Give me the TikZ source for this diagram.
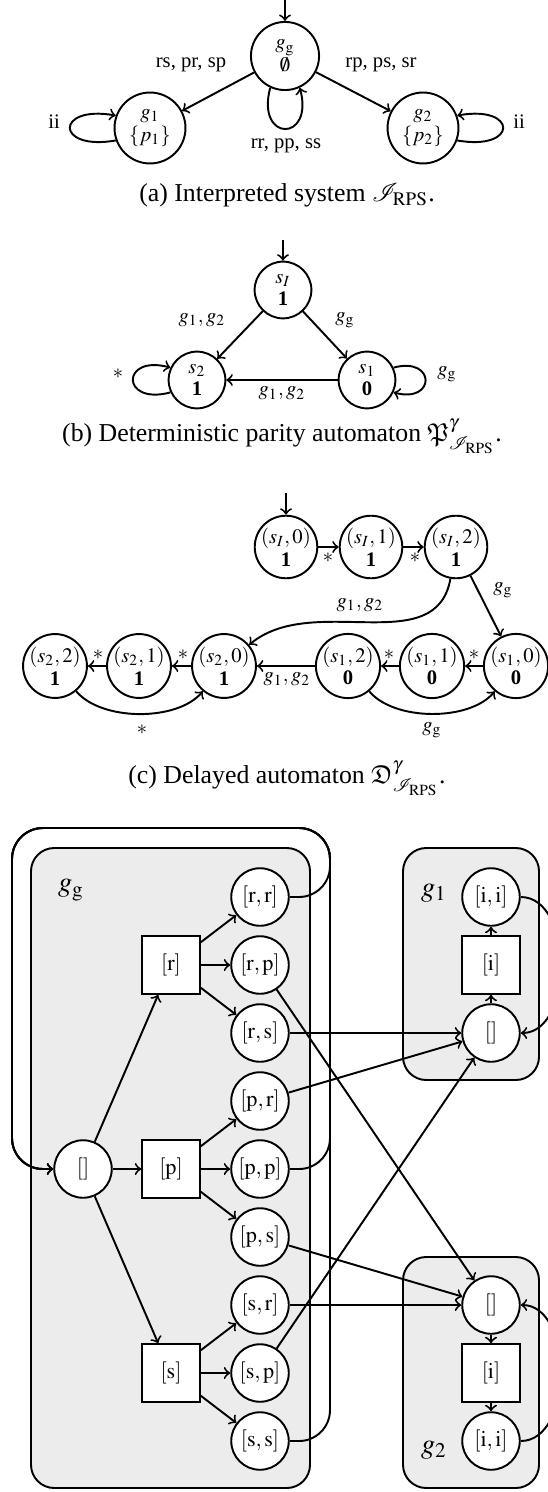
\documentclass[tikz,border=0pt]{standalone}
\usepackage{mathptmx}
\usepackage{amssymb}
\usepackage{mathrsfs}
\usepackage{fontspec}
\setmainfont{Liberation Serif}
\usetikzlibrary{positioning}

\newcommand{\Irps}{\mathscr{I}_{\mathrm{RPS}}}
\newcommand{\hist}[1]{$[\mathrm{#1}]$}

\tikzset{
  lbl/.style={font=\fontsize{8}{9.5}\selectfont, inner sep=0pt},
  state/.style={circle, draw, align=center, inner sep=0pt, font=\fontsize{8}{8.8}\selectfont},
  hbox/.style={rectangle, draw, fill=white, minimum size=22.3pt, inner sep=0pt, font=\fontsize{8.6}{10}\selectfont},
  hcirc/.style={circle, draw, fill=white, minimum size=22.3pt, inner sep=0pt, font=\fontsize{8.6}{10}\selectfont},
  groupbox/.style={draw, fill=gray!15, rounded corners=9pt},
  caption/.style={font=\fontsize{10}{12}\selectfont, inner sep=0pt},
  glabel/.style={font=\fontsize{11}{13}\selectfont, inner sep=0pt},
}

\begin{document}
\begin{tikzpicture}[x=0.3876pt, y=-0.3876pt, line width=0.75pt]
  \useasboundingbox (0,0) rectangle (548,1492);

  % (a) interpreted system
  \node[state, minimum size=26.4pt] (gg) at (285,56) {$g_{\mathrm{g}}$\\$\emptyset$};
  \node[state, minimum size=27.5pt] (g1) at (150,128) {$g_1$\\$\{p_1\}$};
  \node[state, minimum size=27.5pt] (g2) at (423,128) {$g_2$\\$\{p_2\}$};
  \coordinate (ginit) at (285,0);

  \draw[->] (ginit) -- (gg);
  \draw[->] (gg) -- (g1);
  \draw[->] (gg) -- (g2);
  \draw[->] (gg.245) .. controls +(255:22pt) and +(285:22pt) .. (gg.295);
  \draw[->] (g1.200) .. controls +(190:24pt) and +(170:24pt) .. (g1.160);
  \draw[->] (g2.-20) .. controls +(-10:24pt) and +(10:24pt) .. (g2.20);

  \node[lbl] (la1) at (191,65) {rs, pr, sp};
  \node[lbl] (la2) at (381,65) {rp, ps, sr};
  \node[lbl] (la3) at (286,146) {rr, pp, ss};
  \node[lbl] (la4) at (54,122) {ii};
  \node[lbl] (la5) at (519,122) {ii};
  \node[caption] (capa) at (287,195) {(a) Interpreted system $\Irps$.};

  % (b) parity automaton
  \node[state, minimum size=22pt] (sI) at (283,290) {$s_I$\\\textbf{1}};
  \node[state, minimum size=22pt] (s2) at (197,380) {$s_2$\\\textbf{1}};
  \node[state, minimum size=22pt] (s1) at (367,380) {$s_1$\\\textbf{0}};
  \coordinate (sinit) at (283,240);

  \draw[->] (sinit) -- (sI);
  \draw[->] (sI) -- (s2);
  \draw[->] (sI) -- (s1);
  \draw[->] (s1) -- (s2);
  \draw[->] (s2.205) .. controls +(195:20pt) and +(165:20pt) .. (s2.155);
  \draw[->] (s1.25) .. controls +(15:17pt) and +(-15:17pt) .. (s1.-25);

  \node[lbl] (lb1) at (202,320) {$g_1, g_2$};
  \node[lbl] (lb2) at (345,320) {$g_{\mathrm{g}}$};
  \node[lbl, anchor=north] (lb3) at (282,386) {$g_1, g_2$};
  \node[lbl] (lb4) at (118,374) {$*$};
  \node[lbl] (lb5) at (447,374) {$g_{\mathrm{g}}$};
  \node[caption] (capb) at (282,436) {(b) Deterministic parity automaton $\mathfrak{P}^{\gamma}_{\Irps}$.};

  % (c) delayed automaton
  \node[state, minimum size=24pt] (sI0) at (286,547) {$(s_I,0)$\\\textbf{1}};
  \node[state, minimum size=24pt] (sI1) at (371,547) {$(s_I,1)$\\\textbf{1}};
  \node[state, minimum size=24pt] (sI2) at (456,547) {$(s_I,2)$\\\textbf{1}};
  \node[state, minimum size=24pt] (s22) at (55,666) {$(s_2,2)$\\\textbf{1}};
  \node[state, minimum size=24pt] (s21) at (139,666) {$(s_2,1)$\\\textbf{1}};
  \node[state, minimum size=24pt] (s20) at (224,666) {$(s_2,0)$\\\textbf{1}};
  \node[state, minimum size=24pt] (s12) at (348,666) {$(s_1,2)$\\\textbf{0}};
  \node[state, minimum size=24pt] (s11) at (432,666) {$(s_1,1)$\\\textbf{0}};
  \node[state, minimum size=24pt] (s10) at (516,666) {$(s_1,0)$\\\textbf{0}};
  \coordinate (dinit) at (286,493);

  \draw[->] (dinit) -- (sI0);
  \draw[->] (sI0) -- (sI1);
  \draw[->] (sI1) -- (sI2);
  \draw[->] (sI2) to[out=260, in=40] (s20);
  \draw[->] (sI2) -- (s10);
  \draw[->] (s10) -- (s11);
  \draw[->] (s11) -- (s12);
  \draw[->] (s12) -- (s20);
  \draw[->] (s20) -- (s21);
  \draw[->] (s21) -- (s22);
  \draw[->] (s22) to[out=-50, in=-130, looseness=0.8] (s20);
  \draw[->] (s12) to[out=-50, in=-130, looseness=0.8] (s10);

  \node[lbl] (lc1) at (328,558) {$*$};
  \node[lbl] (lc2) at (415,558) {$*$};
  \node[lbl] (lc3) at (360,605) {$g_1, g_2$};
  \node[lbl] (lc4) at (503,590) {$g_{\mathrm{g}}$};
  \node[lbl] (lc5) at (98,655) {$*$};
  \node[lbl] (lc6) at (183,655) {$*$};
  \node[lbl] (lc7) at (389,655) {$*$};
  \node[lbl] (lc8) at (474,655) {$*$};
  \node[lbl, anchor=north] (lc9) at (287,672) {$g_1, g_2$};
  \node[lbl] (lc10) at (142,730) {$*$};
  \node[lbl] (lc11) at (432,730) {$g_{\mathrm{g}}$};
  \node[caption] (capc) at (287,778) {(c) Delayed automaton $\mathfrak{D}^{\gamma}_{\Irps}$.};

  % (d) game arena
  \draw[groupbox] (31,848) rectangle (310,1488);
  \draw[groupbox] (403,848) rectangle (539,1080);
  \draw[groupbox] (403,1257) rectangle (539,1488);

  \node[glabel] (lgg) at (71,890) {$g_{\mathrm{g}}$};
  \node[glabel] (lg1) at (434,893) {$g_1$};
  \node[glabel] (lg2) at (434,1450) {$g_2$};

  \node[hcirc] (e0) at (83,1169) {$[]$};
  \node[hbox] (hr) at (171,965) {\hist{r}};
  \node[hbox] (hp) at (171,1169) {\hist{p}};
  \node[hbox] (hs) at (171,1373) {\hist{s}};

  \node[hcirc] (rr) at (260,897) {\hist{r,r}};
  \node[hcirc] (rp) at (260,965) {\hist{r,p}};
  \node[hcirc] (rs) at (260,1033) {\hist{r,s}};
  \node[hcirc] (pr) at (260,1101) {\hist{p,r}};
  \node[hcirc] (pp) at (260,1169) {\hist{p,p}};
  \node[hcirc] (ps) at (260,1237) {\hist{p,s}};
  \node[hcirc] (sr) at (260,1305) {\hist{s,r}};
  \node[hcirc] (sp) at (260,1373) {\hist{s,p}};
  \node[hcirc] (ss) at (260,1441) {\hist{s,s}};

  \node[hcirc] (gaii) at (491,897) {\hist{i,i}};
  \node[hbox] (gai) at (491,965) {\hist{i}};
  \node[hcirc] (ga0) at (491,1033) {$[]$};
  \node[hcirc] (gb0) at (491,1305) {$[]$};
  \node[hbox] (gbi) at (491,1373) {\hist{i}};
  \node[hcirc] (gbii) at (491,1441) {\hist{i,i}};

  % moves of g_g
  \draw[->] (e0) -- (hr);
  \draw[->] (e0) -- (hp);
  \draw[->] (e0) -- (hs);
  \draw[->] (hr) -- (rr);
  \draw[->] (hr) -- (rp);
  \draw[->] (hr) -- (rs);
  \draw[->] (hp) -- (pr);
  \draw[->] (hp) -- (pp);
  \draw[->] (hp) -- (ps);
  \draw[->] (hs) -- (sr);
  \draw[->] (hs) -- (sp);
  \draw[->] (hs) -- (ss);

  % back to the start
  \draw[->, rounded corners=12pt] (rr.east) -| (330,828) -| (12,1169) -- (e0.west);
  \draw[->, rounded corners=12pt] (pp.east) -| (330,828) -| (12,1169) -- (e0.west);
  \draw[->, rounded corners=12pt] (ss.east) -| (330,828) -| (12,1169) -- (e0.west);

  % into g_1 and g_2
  \draw[->] (rs) -- (ga0);
  \draw[->] (pr) -- (ga0);
  \draw[->] (sp) -- (ga0);
  \draw[->] (rp) -- (gb0);
  \draw[->] (ps) -- (gb0);
  \draw[->] (sr) -- (gb0);

  % g_1 and g_2
  \draw[->] (ga0) -- (gai);
  \draw[->] (gai) -- (gaii);
  \draw[->] (gaii.east) to[out=0, in=0] (ga0.east);
  \draw[->] (gb0) -- (gbi);
  \draw[->] (gbi) -- (gbii);
  \draw[->] (gbii.east) to[out=0, in=0] (gb0.east);
\end{tikzpicture}
\end{document}
